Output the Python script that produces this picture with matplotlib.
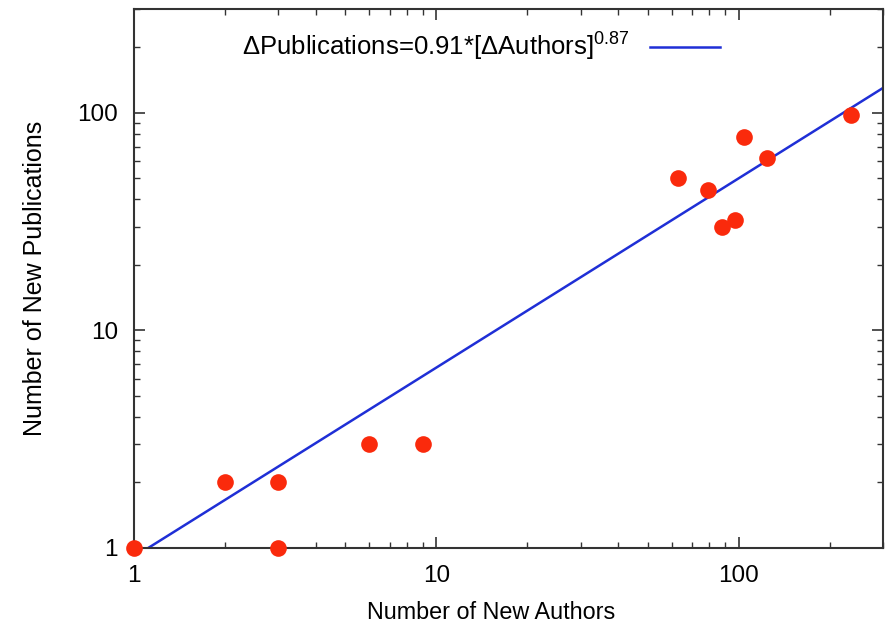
import numpy as np
import matplotlib
matplotlib.use('Agg')
import matplotlib.pyplot as plt
from matplotlib.ticker import LogLocator, NullFormatter

plt.rcParams['font.family'] = ['Liberation Sans', 'DejaVu Sans']
plt.rcParams['mathtext.fontset'] = 'custom'
plt.rcParams['mathtext.rm'] = 'Liberation Sans'
plt.rcParams['mathtext.it'] = 'Liberation Sans'

# data
new_authors = [1, 2, 3, 3, 6, 9, 63, 79, 88, 97, 104, 124, 236]
new_pubs    = [1, 2, 2, 1, 3, 3, 50, 44, 30, 32, 77, 62, 98]

fit_coef = 0.91
fit_exp = 0.87

fig = plt.figure(figsize=(8.86, 6.28), dpi=100)
ax = fig.add_axes([0.1512, 0.1274, 0.8454, 0.8583])

xfit = np.logspace(0, np.log10(300), 200)
yfit = fit_coef * xfit ** fit_exp
ax.plot(xfit, yfit, color='#1f2fd6', lw=1.8,
        label=r'ΔPublications=0.91*[ΔAuthors]$^{0.87}$')
ax.plot(new_authors, new_pubs, 'o', color='#fa2a0c', ms=12, mec='none',
        clip_on=False, zorder=3)

ax.set_xscale('log')
ax.set_yscale('log')
ax.set_xlim(1, 300)
ax.set_ylim(1, 300)

ax.set_xticks([1, 10, 100])
ax.set_xticklabels(['1', '10', '100'])
ax.set_yticks([1, 10, 100])
ax.set_yticklabels(['1', '10', '100'])
ax.xaxis.set_minor_locator(LogLocator(base=10, subs=np.arange(2, 10)))
ax.yaxis.set_minor_locator(LogLocator(base=10, subs=np.arange(2, 10)))
ax.xaxis.set_minor_formatter(NullFormatter())
ax.yaxis.set_minor_formatter(NullFormatter())

ax.tick_params(which='both', direction='in', top=True, right=True,
               labelsize=17.5, color='#333333')
ax.tick_params(which='major', length=8, width=1.2)
ax.tick_params(which='minor', length=4, width=1.0)
ax.tick_params(axis='y', which='major', pad=11.5)
ax.tick_params(axis='x', which='major', pad=12)
for s in ax.spines.values():
    s.set_linewidth(1.5)
    s.set_color('#333333')

ax.set_xlabel('Number of New Authors', fontsize=16.8, labelpad=10)
ax.xaxis.label.set_x(0.477)
ax.set_ylabel('Number of New Publications', fontsize=18, labelpad=22)

ax.legend(loc='center', bbox_to_anchor=(0.463, 0.929), frameon=False,
          markerfirst=False, handlelength=2.7, handletextpad=0.8,
          fontsize=18.5)

fig.savefig('out.png', dpi=100)
